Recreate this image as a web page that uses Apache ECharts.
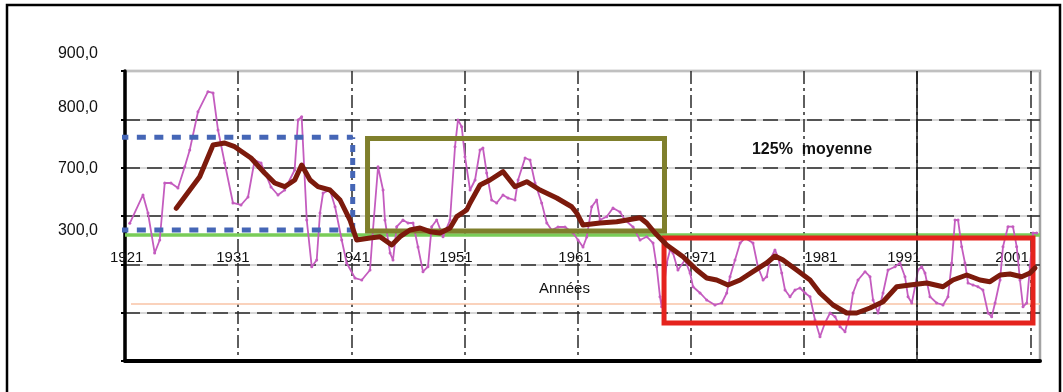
<!DOCTYPE html>
<html><head><meta charset="utf-8">
<script src="https://cdn.jsdelivr.net/npm/echarts@6/dist/echarts.min.js"></script>
<style>html,body{margin:0;padding:0;background:#fff}#c{width:1063px;height:392px}</style>
</head><body><div id="c"></div>
<script>
const FONT = '"Liberation Sans", Arial, Helvetica, sans-serif';
const X0 = 1921;

// y tick labels (as printed on the chart) and the values where they sit
const yTickLabels = ['900,0', '800,0', '700,0', '300,0'];
const yTickValues = [635.2, 523.5, 397.2, 268.9];

// x tick labels and where they are printed
const xLabelYears = ['1921', '1931', '1941', '1951', '1961', '1971', '1981', '1991', '2001'];
const xLabelPos = [1921.15, 1930.54, 1941.15, 1950.25, 1960.76, 1971.81, 1982.5, 1989.83, 1999.38];

// annual series (pink)
const pinkYears = [1921.42,1922.59,1923.03,1923.62,1924.07,1924.51,1925.06,1925.68,1926.28,1926.72,1927.45,1928.33,1928.78,1929.22,1929.81,1930.54,1931.25,1931.87,1932.46,1933.02,1933.90,1934.52,1935.11,1935.99,1936.29,1936.61,1937.06,1937.50,1937.94,1938.23,1938.50,1939.11,1939.56,1940.15,1940.59,1941.32,1941.92,1942.65,1942.91,1943.36,1943.80,1943.97,1944.42,1944.68,1945.01,1945.56,1946.01,1946.45,1946.89,1947.33,1947.77,1948.10,1948.54,1949.10,1949.72,1950.16,1950.42,1950.75,1951.04,1951.49,1951.93,1952.37,1952.63,1952.96,1953.40,1953.84,1954.40,1954.84,1955.46,1955.73,1956.35,1956.79,1957.23,1957.82,1958.27,1958.70,1959.26,1959.88,1960.59,1961.03,1961.47,1961.80,1962.24,1962.68,1962.97,1963.56,1964.12,1964.74,1965.18,1965.89,1966.51,1967.10,1967.66,1967.98,1968.27,1968.42,1968.87,1969.16,1969.42,1969.86,1970.48,1970.93,1971.19,1971.81,1972.40,1973.13,1973.73,1974.17,1974.46,1974.90,1975.35,1975.79,1976.49,1976.93,1977.38,1977.70,1977.99,1978.43,1978.70,1979.03,1979.32,1979.76,1980.20,1980.64,1981.09,1981.53,1981.97,1982.41,1982.85,1983.30,1983.74,1984.18,1984.62,1985.06,1985.33,1985.77,1986.39,1986.83,1987.10,1987.54,1987.98,1988.42,1989.04,1989.48,1989.92,1990.19,1990.52,1990.81,1991.07,1991.40,1991.69,1992.13,1992.72,1993.28,1993.72,1994.05,1994.34,1994.61,1994.93,1995.22,1995.49,1995.93,1996.37,1996.81,1997.26,1997.58,1997.88,1998.32,1998.58,1999.02,1999.46,1999.79,2000.08,2000.35,2000.68,2000.97,2001.23,2001.56];
const pinkValues = [284.9,343.5,306.2,223.5,250.3,368.3,368.3,357.9,402.0,436.6,515.8,557.2,554.5,477.9,409.7,326.9,322.8,339.3,415.9,409.7,360.0,343.5,353.8,395.2,498.6,505.5,291.7,195.1,209.0,306.2,347.6,353.8,319.2,250.3,202.8,171.7,167.6,188.3,271.0,402.0,353.8,291.7,223.5,209.0,277.9,291.7,285.5,285.5,235.9,184.8,195.1,277.9,291.7,257.2,291.7,443.4,498.6,484.8,422.7,353.8,374.5,436.6,440.7,389.0,333.1,326.9,343.5,337.2,333.1,374.5,420.0,415.9,368.3,326.9,285.5,271.0,277.2,277.2,264.8,250.3,235.9,256.6,319.2,333.1,291.7,298.6,316.6,308.3,291.7,277.2,250.3,257.2,244.1,195.1,133.0,112.3,202.8,229.7,223.5,188.3,209.0,182.1,153.7,140.7,126.2,115.9,120.0,140.7,174.4,209.0,244.1,254.5,244.1,194.5,167.6,174.4,209.0,229.7,215.2,182.1,146.9,133.0,146.9,151.0,140.7,133.0,84.8,50.3,78.6,99.3,91.7,71.0,60.6,99.3,140.7,167.6,184.8,174.4,126.2,99.3,140.7,188.3,195.1,202.8,174.4,133.0,120.0,153.7,188.3,195.1,182.1,133.0,120.0,115.9,133.0,202.8,291.7,291.7,236.5,202.8,161.4,157.2,153.7,146.9,99.3,91.7,120.0,167.6,236.5,277.9,277.9,236.5,167.6,112.3,120.0,195.1,264.8,264.8];

// moving average (dark red)
const maYears = [1925.53,1927.60,1928.78,1929.81,1930.69,1932.13,1933.34,1934.23,1935.11,1936.00,1936.61,1937.35,1938.05,1939.11,1940.00,1940.88,1941.47,1942.65,1943.53,1944.57,1945.30,1946.18,1947.07,1947.95,1948.83,1949.72,1950.31,1951.19,1951.49,1952.37,1953.25,1954.40,1955.46,1956.50,1957.67,1959.15,1960.47,1960.91,1961.47,1962.97,1964.45,1966.51,1967.10,1967.83,1968.87,1970.31,1971.52,1972.40,1973.28,1974.28,1975.35,1976.49,1977.70,1978.43,1979.14,1980.35,1981.53,1982.41,1983.56,1984.77,1985.65,1986.83,1987.98,1989.19,1990.36,1991.84,1993.28,1994.16,1995.37,1996.55,1997.43,1998.32,1999.20,2000.23,2000.97,2001.41];
const maValues = [315.9,381.3,446.9,451.0,443.4,420.0,389.0,368.3,360.6,374.5,405.5,374.5,360.6,353.8,333.1,291.7,250.3,254.5,257.2,240.0,257.2,271.0,275.2,267.5,264.8,275.2,298.6,312.4,326.9,364.1,374.5,391.7,360.6,371.0,353.8,337.2,319.2,306.2,281.4,285.5,288.2,296.5,285.5,264.8,240.0,215.8,188.3,171.7,167.6,157.2,167.6,184.8,202.8,217.2,209.0,188.3,167.6,140.7,115.9,99.3,99.3,109.7,122.7,153.7,157.2,161.4,153.7,167.6,177.9,167.6,164.1,177.9,180.0,174.4,182.1,192.4];

// reference levels and period boxes (years, values)
const meanLevel = 260.7;
const lowLevel = 117.9;
const levelYears = [1921, 2001.85];
const lowYears = [1921.53, 2001.85];
const blueBoxYears = [1920.5, 1941.12];
const blueBoxValues = [271.0, 462.8];
const oliveBoxYears = [1942.43, 1968.67];
const oliveBoxValues = [269.0, 460.4];
const redBoxYears = [1968.63, 2001.23];
const redBoxValues = [78.6, 254.5];
const solidGridYear = 1991;

const T = y => y - X0;
const pts = (ys, vs) => ys.map((y, i) => [T(y), vs[i]]);
function rectPts(xs, vs) {
  return [[T(xs[0]), vs[0]], [T(xs[1]), vs[0]], [T(xs[1]), vs[1]], [T(xs[0]), vs[1]], [T(xs[0]), vs[0]]];
}
function lineSeries(data, ls, z, extra) {
  return Object.assign({
    type: 'line', xAxisIndex: 0, yAxisIndex: 0, data: data,
    symbol: 'none', showSymbol: false, clip: false, silent: true, z: z,
    lineStyle: ls, animation: false
  }, extra || {});
}

const blueH = { color: '#4566b6', width: 5, type: [9, 8.5], cap: 'butt' };
const blueV = { color: '#4566b6', width: 5, type: [7, 6], cap: 'butt' };
const bx = blueBoxYears.map(T);

const series = [
  lineSeries(pts(lowYears, [lowLevel, lowLevel]), { color: '#f8c3a6', width: 1.5 }, 2, {
    markLine: {
      silent: true, symbol: ['none', 'none'], label: { show: false },
      lineStyle: { color: '#1a1a1a', width: 1.5, type: 'solid' },
      data: [{ xAxis: T(solidGridYear) }], animation: false
    }
  }),
  lineSeries(pts(levelYears, [meanLevel, meanLevel]), { color: '#79cc58', width: 3.5 }, 3),
  lineSeries(pts(pinkYears, pinkValues), { color: '#c45cbf', width: 1.8 }, 4, {
    symbol: 'circle', symbolSize: 3, showSymbol: true, showAllSymbol: true,
    itemStyle: { color: '#c45cbf' }
  }),
  lineSeries([[bx[0], blueBoxValues[1]], [bx[1], blueBoxValues[1]]], blueH, 5),
  lineSeries([[bx[0], blueBoxValues[0]], [bx[1], blueBoxValues[0]]], blueH, 5),
  lineSeries([[bx[0], blueBoxValues[0]], [bx[0], blueBoxValues[1]]], blueV, 5),
  lineSeries([[bx[1], blueBoxValues[0]], [bx[1], blueBoxValues[1]]], blueV, 5),
  lineSeries(rectPts(oliveBoxYears, oliveBoxValues), { color: '#7f7f2c', width: 5, join: 'miter', cap: 'square' }, 6),
  lineSeries(rectPts(redBoxYears, redBoxValues), { color: '#e5231d', width: 5, join: 'miter', cap: 'square' }, 7),
  lineSeries(pts(maYears, maValues), { color: '#7c1a0c', width: 5, join: 'round', cap: 'round' }, 8)
];

const chart = echarts.init(document.getElementById('c'), null, { renderer: 'canvas', width: 1063, height: 392 });
chart.setOption({
  animation: false,
  backgroundColor: '#ffffff',
  textStyle: { fontFamily: FONT },
  grid: [
    { left: 125, right: 23, top: 71, bottom: 31, show: true, borderColor: '#a3a3a3', borderWidth: 2.5, backgroundColor: 'transparent' },
    { left: 125, right: 23, top: 40, height: 202, show: false }
  ],
  xAxis: [
    {
      gridIndex: 0, type: 'value', min: 0, max: 80.85, interval: 10,
      axisLine: { show: true, onZero: false, lineStyle: { color: '#000', width: 4 } },
      axisTick: { show: false }, axisLabel: { show: false },
      splitLine: { show: true, showMinLine: false, showMaxLine: false, lineStyle: { color: '#2a2a2a', width: 1.5, type: [13, 4, 3, 4] } }
    },
    {
      gridIndex: 1, type: 'value', min: 0, max: 80.85,
      axisLine: { show: false }, axisTick: { show: false }, splitLine: { show: false },
      axisLabel: {
        show: true, customValues: xLabelPos.map(T), margin: 8, fontSize: 15, color: '#111', fontFamily: FONT,
        formatter: v => { const i = xLabelPos.findIndex(p => Math.abs(T(p) - v) < 1e-6); return i >= 0 ? xLabelYears[i] : ''; }
      }
    }
  ],
  yAxis: [
    {
      gridIndex: 0, type: 'value', min: 0, max: 600, interval: 100, position: 'left',
      axisLine: { show: true, onZero: false, lineStyle: { color: '#000', width: 3.5 } },
      axisTick: { show: true, length: 4, lineStyle: { color: '#000', width: 2 } },
      axisLabel: { show: false },
      splitLine: { show: true, lineStyle: { color: '#cacaca', width: 1.5 } }
    },
    {
      gridIndex: 1, type: 'value', min: 246.2, max: 664.1, position: 'left',
      axisLine: { show: false }, axisTick: { show: false }, splitLine: { show: false },
      axisLabel: {
        show: true, customValues: yTickValues, margin: 27, fontSize: 16, color: '#111', fontFamily: FONT,
        formatter: v => { const i = yTickValues.findIndex(p => Math.abs(p - v) < 1e-6); return i >= 0 ? yTickLabels[i] : ''; }
      }
    },
    {
      gridIndex: 0, type: 'value', min: 0, max: 600, interval: 100, position: 'left',
      axisLine: { show: false }, axisTick: { show: false }, axisLabel: { show: false },
      splitLine: { show: true, showMinLine: false, showMaxLine: false, lineStyle: { color: '#2a2a2a', width: 1.5, type: [15, 7] } }
    }
  ],
  series: series,
  graphic: [
    { type: 'rect', silent: true, z: 100, shape: { x: 7, y: 5, width: 1053, height: 400 }, style: { fill: 'none', stroke: '#000', lineWidth: 2.5 } },
    { type: 'text', silent: true, z: 100, x: 564.5, y: 289, style: { text: 'Années', fill: '#111', fontSize: 15, fontFamily: FONT, align: 'center', verticalAlign: 'middle' } },
    { type: 'text', silent: true, z: 100, x: 812, y: 150, style: { text: '125%  moyenne', fill: '#111', fontSize: 16, fontWeight: 'bold', fontFamily: FONT, align: 'center', verticalAlign: 'middle' } }
  ]
});
</script>
</body></html>
